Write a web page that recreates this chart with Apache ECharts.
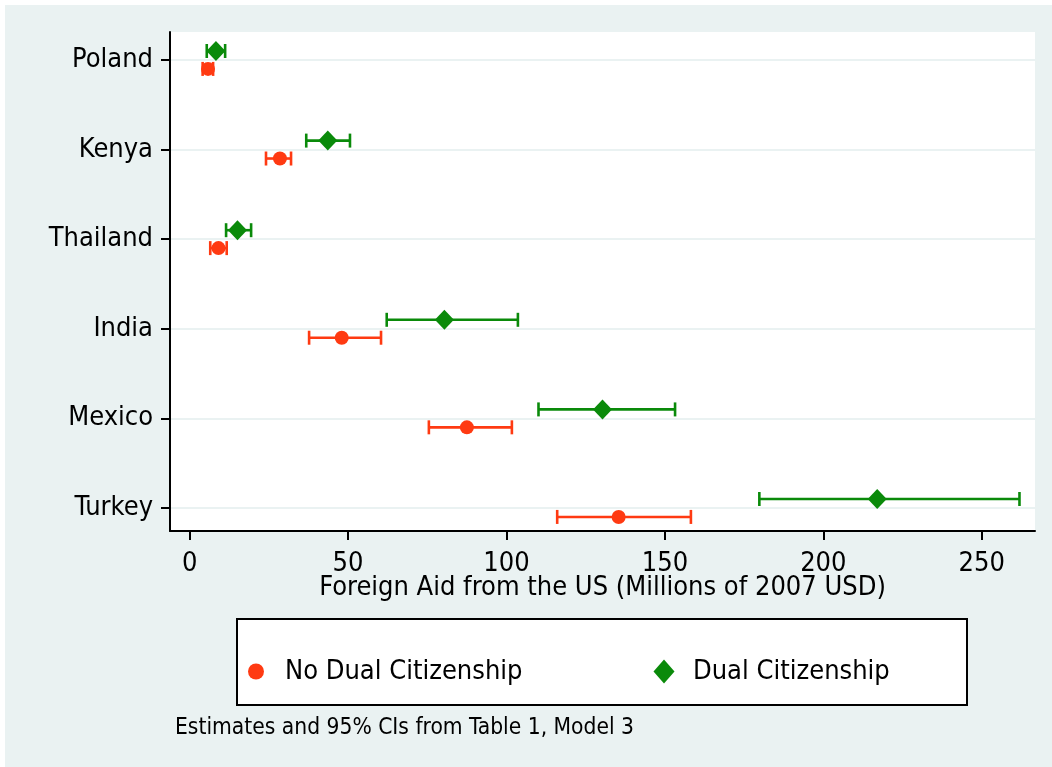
<!DOCTYPE html>
<html>
<head>
<meta charset="utf-8">
<script src="https://cdn.jsdelivr.net/npm/echarts@6/dist/echarts.min.js"></script>
<style>
  html, body { margin: 0; padding: 0; background: #ffffff; }
  #chart { position: absolute; left: 5px; top: 5px; width: 1047px; height: 762px; }
</style>
</head>
<body>
<div id="chart"></div>
<script>
// Countries listed top to bottom, with their row positions on the y scale
const countries = ['Poland', 'Kenya', 'Thailand', 'India', 'Mexico', 'Turkey'];
const rowPos = [6, 5, 4, 3, 2, 1];

// Estimates and 95% confidence bounds (millions of 2007 USD)
const noDualEst = [5.8, 28.5, 9.1, 48.0, 87.5, 135.4];
const noDualLo  = [4.1, 24.1, 6.5, 37.7, 75.5, 116.0];
const noDualHi  = [7.4, 32.0, 11.7, 60.4, 101.7, 158.2];
const dualEst   = [8.3, 43.6, 15.1, 80.4, 130.3, 217.0];
const dualLo    = [5.4, 36.8, 11.5, 62.2, 110.1, 179.8];
const dualHi    = [11.2, 50.6, 19.4, 103.6, 153.2, 261.9];

const xTicks = [0, 50, 100, 150, 200, 250];
const seriesNames = ['No Dual Citizenship', 'Dual Citizenship'];
const noteText = 'Estimates and 95% CIs from Table 1, Model 3';

const RED = '#ff3a12';
const GREEN = '#0a8a0a';
const BG = '#eaf2f2';
const FONT = '"DejaVu Sans Condensed", "DejaVu Sans", sans-serif';
const FS = 27;
const OFFSET = 0.1; // vertical shift of each group within a row

function ciData(lo, hi, shift) {
  return countries.map((c, i) => [lo[i], hi[i], rowPos[i] + shift]);
}
function pointData(est, shift) {
  return countries.map((c, i) => [est[i], rowPos[i] + shift]);
}
function ciRenderer(color) {
  return function (params, api) {
    const a = api.coord([api.value(0), api.value(2)]);
    const b = api.coord([api.value(1), api.value(2)]);
    const h = 7;
    const st = { stroke: color, lineWidth: 2.6 };
    return {
      type: 'group',
      children: [
        { type: 'line', shape: { x1: a[0], y1: a[1], x2: b[0], y2: b[1] }, style: st },
        { type: 'line', shape: { x1: a[0], y1: a[1] - h, x2: a[0], y2: a[1] + h }, style: st },
        { type: 'line', shape: { x1: b[0], y1: b[1] - h, x2: b[0], y2: b[1] + h }, style: st }
      ]
    };
  };
}

const chart = echarts.init(document.getElementById('chart'), null, { renderer: 'canvas' });

const labelStyle = { fontFamily: FONT, fontSize: FS, color: '#000' };

chart.setOption({
  backgroundColor: BG,
  animation: false,
  textStyle: { fontFamily: FONT, color: '#000' },
  grid: {
    left: 165, top: 27, right: 17, bottom: 236,
    show: true, backgroundColor: '#ffffff', borderWidth: 0
  },
  xAxis: {
    type: 'value',
    min: -6.2, max: 266.8,
    name: 'Foreign Aid from the US (Millions of 2007 USD)',
    nameLocation: 'middle',
    nameGap: 43,
    nameMoveOverlap: false,
    nameTextStyle: Object.assign({ lineHeight: FS }, labelStyle),
    axisLine: { show: true, onZero: false, lineStyle: { color: '#000', width: 2 } },
    axisTick: { show: true, customValues: xTicks, length: 9, inside: false, lineStyle: { color: '#000', width: 2 } },
    axisLabel: Object.assign({ customValues: xTicks, margin: 19, lineHeight: FS }, labelStyle),
    splitLine: { show: false }
  },
  yAxis: {
    type: 'value',
    min: 0.743, max: 6.312,
    axisLine: { show: true, onZero: false, lineStyle: { color: '#000', width: 2 } },
    axisTick: { show: true, customValues: rowPos, length: 9, lineStyle: { color: '#000', width: 2 } },
    axisLabel: Object.assign({
      customValues: rowPos,
      margin: 17,
      formatter: v => countries[rowPos.indexOf(Math.round(v))] || ''
    }, labelStyle),
    splitLine: { show: true, lineStyle: { color: BG, width: 2 } }
  },
  legend: [
    {
      data: [seriesNames[0]],
      left: 243, top: 653, padding: 0,
      itemWidth: 16, itemHeight: 16,
      textStyle: Object.assign({ lineHeight: FS, padding: [0, 0, 0, 16] }, labelStyle),
      selectedMode: false, z: 5
    },
    {
      data: [seriesNames[1]],
      left: 648.5, top: 653, padding: 0,
      itemWidth: 21, itemHeight: 24,
      textStyle: Object.assign({ lineHeight: FS, padding: [0, 0, 0, 13.5] }, labelStyle),
      selectedMode: false, z: 5
    }
  ],
  graphic: [
    {
      type: 'rect', z: 1,
      shape: { x: 232, y: 614, width: 730, height: 86 },
      style: { fill: '#ffffff', stroke: '#000', lineWidth: 2 }
    },
    {
      type: 'text', left: 170, top: 712,
      style: { text: noteText, font: '22.6px "DejaVu Sans Condensed", "DejaVu Sans", sans-serif', fill: '#000' }
    }
  ],
  series: [
    {
      name: seriesNames[0] + ' CI',
      type: 'custom',
      renderItem: ciRenderer(RED),
      encode: { x: [0, 1], y: 2 },
      data: ciData(noDualLo, noDualHi, -OFFSET),
      z: 2
    },
    {
      name: seriesNames[1] + ' CI',
      type: 'custom',
      renderItem: ciRenderer(GREEN),
      encode: { x: [0, 1], y: 2 },
      data: ciData(dualLo, dualHi, OFFSET),
      z: 2
    },
    {
      name: seriesNames[0],
      type: 'scatter',
      symbol: 'circle',
      symbolSize: 14,
      itemStyle: { color: RED, opacity: 1 },
      data: pointData(noDualEst, -OFFSET),
      z: 3
    },
    {
      name: seriesNames[1],
      type: 'scatter',
      symbol: 'diamond',
      symbolSize: [19, 20],
      itemStyle: { color: GREEN, opacity: 1 },
      data: pointData(dualEst, OFFSET),
      z: 3
    }
  ]
});
</script>
</body>
</html>
